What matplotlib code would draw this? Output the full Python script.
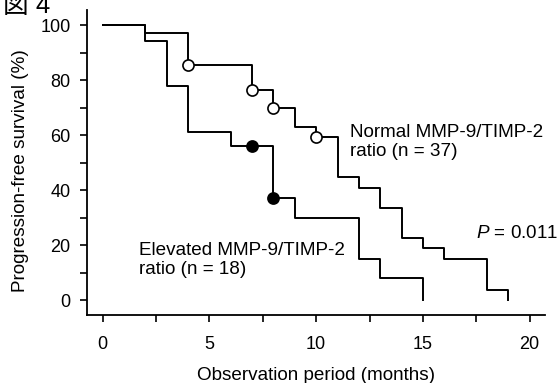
import matplotlib
matplotlib.use("Agg")
import matplotlib.pyplot as plt
from matplotlib.ticker import MultipleLocator

plt.rcParams["font.family"] = ["Liberation Sans", "Noto Sans CJK JP"]
plt.rcParams["mathtext.fontset"] = "custom"
plt.rcParams["mathtext.rm"] = "Liberation Sans"
plt.rcParams["mathtext.it"] = "Liberation Sans:italic"

# Kaplan-Meier steps (months, % progression-free)
normal_time = [0, 2, 4, 7, 8, 9, 10, 11, 12, 13, 14, 15, 16, 18, 19]
normal_surv = [100, 97.3, 85.5, 76.4, 69.7, 62.9, 59.4, 44.8, 40.6, 33.3, 22.4, 18.8, 14.9, 3.7, 0]
normal_cens_time = [4, 7, 8, 10]
normal_cens_surv = [85.5, 76.4, 69.7, 59.4]

elevated_time = [0, 2, 3, 4, 6, 8, 9, 12, 13, 15]
elevated_surv = [100, 94.4, 77.8, 61.1, 56.0, 37.2, 29.7, 14.9, 7.9, 0]
elevated_cens_time = [7, 8]
elevated_cens_surv = [56.0, 37.2]

x_ticks = [0, 5, 10, 15, 20]
y_ticks = [0, 20, 40, 60, 80, 100]

fs = 13.6

fig = plt.figure(figsize=(5.58, 3.83), dpi=100)
ax = fig.add_axes([0.1554, 0.1775, 0.8213, 0.7964])

lw = 1.4
ax.step(normal_time, normal_surv, where="post", color="black", lw=lw)
ax.step(elevated_time, elevated_surv, where="post", color="black", lw=lw)
ax.plot(normal_cens_time, normal_cens_surv, "o", ms=8, mfc="white", mec="black", mew=1.2)
ax.plot(elevated_cens_time, elevated_cens_surv, "o", ms=8, mfc="black", mec="black", mew=1.2)

ax.set_xlim(-0.75, 20.72)
ax.set_ylim(-5.45, 105.5)
ax.set_xticks(x_ticks)
ax.set_yticks(y_ticks)
ax.xaxis.set_minor_locator(MultipleLocator(2.5))
ax.yaxis.set_minor_locator(MultipleLocator(10))
ax.tick_params(which="both", direction="out", length=5, width=1.2, labelsize=13)
ax.tick_params(axis="x", which="major", pad=10)
ax.tick_params(axis="y", which="major", pad=6.5)
for s in ["top", "right"]:
    ax.spines[s].set_visible(False)
for s in ["left", "bottom"]:
    ax.spines[s].set_linewidth(1.3)

ax.set_xlabel("Observation period (months)", fontsize=fs)
ax.xaxis.set_label_coords(0.5, -0.197)
ax.xaxis.label.set_va("center")
ax.set_ylabel("Progression-free survival (%)", fontsize=fs)
ax.yaxis.set_label_coords(-0.1455, 0.472)
ax.yaxis.label.set_va("center")

ax.text(11.6, 64, "Normal MMP-9/TIMP-2\nratio (n = 37)", fontsize=fs, va="top", ha="left", linespacing=1.12)
ax.text(1.71, 21.2, "Elevated MMP-9/TIMP-2\nratio (n = 18)", fontsize=fs, va="top", ha="left", linespacing=1.15)
ax.text(17.5, 27.3, "$P$ = 0.011", fontsize=fs, va="top", ha="left")

fig.text(3 / 558, 1 - 12.7 / 383, "図 4", fontsize=18.5, va="baseline", ha="left")

fig.savefig("out.png", dpi=100)
